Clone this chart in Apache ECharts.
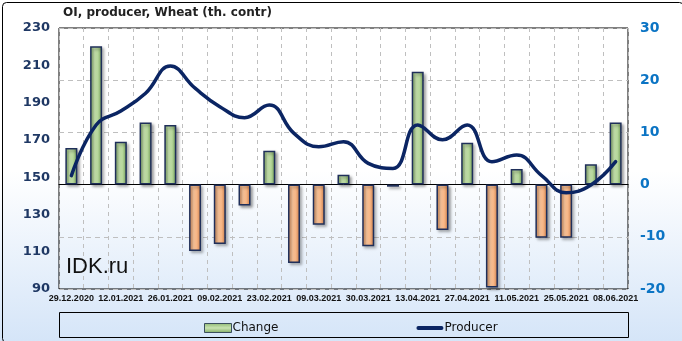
<!DOCTYPE html>
<html><head><meta charset="utf-8">
<script src="https://cdn.jsdelivr.net/npm/echarts@6/dist/echarts.min.js"></script>
<style>html,body{margin:0;padding:0;}#c{width:682px;height:341px;}</style>
</head><body><div id="c"></div>
<script>
const categories = ['29.12.2020','05.01.2021','12.01.2021','19.01.2021','26.01.2021','02.02.2021','09.02.2021','16.02.2021','23.02.2021','02.03.2021','09.03.2021','16.03.2021','30.03.2021','06.04.2021','13.04.2021','20.04.2021','27.04.2021','04.05.2021','11.05.2021','18.05.2021','25.05.2021','01.06.2021','08.06.2021'];
const change = [7, 26.5, 8.2, 11.9, 11.4, -12.7, -11.4, -4.0, 6.5, -15.0, -7.7, 1.9, -11.8, -0.4, 21.6, -8.7, 8.0, -19.7, 3.0, -10.2, -10.2, 3.9, 11.9];
const producer = [150.8, 178, 185.5, 195, 209.6, 197.7, 187.8, 181.9, 188.7, 173.5, 166.3, 169, 157.4, 154.7, 178, 170, 178, 158.3, 161.9, 151, 141.6, 145.8, 158.3];
const leftTicks = [90, 110, 130, 150, 170, 190, 210, 230];
const rightTicks = [-20, -10, 0, 10, 20, 30];

const chart = echarts.init(document.getElementById('c'));
const greenGrad = new echarts.graphic.LinearGradient(0,0,1,0,[{offset:0,color:'#7fa861'},{offset:0.35,color:'#c6e2ae'},{offset:0.65,color:'#b5d69a'},{offset:1,color:'#6f9a52'}]);
const orangeGrad = new echarts.graphic.LinearGradient(0,0,1,0,[{offset:0,color:'#d98a55'},{offset:0.35,color:'#fbc69c'},{offset:0.65,color:'#f6b585'},{offset:1,color:'#c97a45'}]);
const legendGreen = new echarts.graphic.LinearGradient(0,0,0,1,[{offset:0,color:'#8fb872'},{offset:0.5,color:'#c9e4b2'},{offset:1,color:'#7fa861'}]);
chart.setOption({
  animation:false,
  backgroundColor: new echarts.graphic.LinearGradient(0,0,0,1,[{offset:0,color:'#ffffff'},{offset:0.5,color:'#ffffff'},{offset:1,color:'#d5e5f8'}]),
  graphic:[
    {type:'rect',left:0,top:0,shape:{x:0.5,y:0.5,width:681,height:340,r:4},style:{fill:'none',stroke:'#000',lineWidth:1},z:-1},
    {type:'text',left:63,top:7,style:{text:'OI, producer, Wheat (th. contr)',font:'bold 12px "DejaVu Sans"',fill:'#222'}},
    {type:'text',left:66,top:256,style:{text:'IDK.ru',font:'22px "Liberation Sans"',fill:'#111'},z:10},
    {type:'rect',shape:{x:59.5,y:312.5,width:569,height:25},style:{fill:'none',stroke:'#000',lineWidth:1}}
  ],
  grid:{left:59,right:54,top:28,bottom:52,show:true,borderColor:'#000',borderWidth:1,backgroundColor:'transparent'},
  legend:{left:199,top:317,itemGap:138,itemWidth:27,itemHeight:9,
    textStyle:{fontFamily:'DejaVu Sans',fontSize:12,color:'#111',padding:[0,0,0,-4]},
    data:[{name:'Change',icon:'rect',itemStyle:{color:legendGreen,borderColor:'#3b4f5e',borderWidth:1}},
          {name:'Producer',icon:'path://M2,0h24a2,2 0 0 1 0,4h-24a2,2 0 0 1 0,-4z'}]},
  xAxis:{type:'category',data:categories,boundaryGap:true,
    axisLine:{show:true,lineStyle:{color:'#000'}},
    axisTick:{show:false},
    axisLabel:{interval:1,fontSize:9,fontWeight:'bold',fontFamily:'Liberation Sans',color:'#111',margin:5},
    splitLine:{show:true,interval:0,lineStyle:{color:'#bfbfbf',type:[4,4]}}},
  yAxis:[
    {type:'value',min:90,max:230,interval:20,position:'left',
      axisLine:{show:false},axisTick:{show:false},splitLine:{show:false},
      axisLabel:{customValues:leftTicks,fontSize:13,fontWeight:'bold',fontFamily:'DejaVu Sans',color:'#1f3864',margin:9}},
    {type:'value',min:-20,max:30,interval:10,position:'right',
      axisLine:{show:false},axisTick:{show:false},
      splitLine:{show:true,lineStyle:{color:'#bfbfbf',type:[5,4]}},
      axisLabel:{customValues:rightTicks,fontSize:14,fontWeight:'bold',fontFamily:'DejaVu Sans',color:'#0b74c4',margin:12}}
  ],
  series:[
    {name:'Change',type:'bar',yAxisIndex:1,barWidth:12,data:change,
      itemStyle:{color:function(p){return p.value>=0?greenGrad:orangeGrad;},borderColor:'#1f2f5a',borderWidth:1.5,
        shadowColor:'rgba(0,0,0,0.35)',shadowBlur:3,shadowOffsetX:2,shadowOffsetY:2}},
    {name:'Producer',type:'line',yAxisIndex:0,data:producer,smooth:0.45,showSymbol:false,symbol:'none',z:5,
      lineStyle:{color:'#0b2563',width:3.5,cap:'round',join:'round'},itemStyle:{color:'#0b2563'}}
  ]
});
</script></body></html>
